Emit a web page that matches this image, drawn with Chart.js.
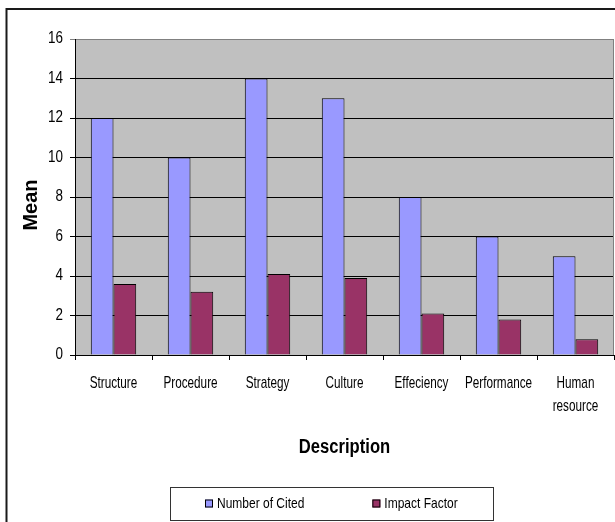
<!DOCTYPE html>
<html>
<head>
<meta charset="utf-8">
<script src="https://cdn.jsdelivr.net/npm/chart.js@4.4.1/dist/chart.umd.min.js"></script>
<style>
  html, body { margin: 0; padding: 0; background: #fff; }
  canvas { display: block; }
</style>
</head>
<body>
<canvas id="c" width="615" height="522"></canvas>
<script>
// Categories and series values
const categories = ['Structure', 'Procedure', 'Strategy', 'Culture', 'Effeciency', 'Performance', ['Human', 'resource']];
const numberOfCited = [12, 10, 14, 13, 8, 6, 5];
const impactFactor = [3.6, 3.2, 4.1, 3.9, 2.1, 1.8, 0.8];
const yTicks = [0, 2, 4, 6, 8, 10, 12, 14, 16];

const FONT = "'Liberation Sans', Arial, sans-serif";

Chart.defaults.color = '#000';

// Condensed lettering: horizontal text is narrowed by a factor chosen per font size
const canvas = document.getElementById('c');
const context = canvas.getContext('2d');
const CONDENSE = { 17: 0.69, 16: 0.84, 15: 0.8, 20: 0.83 };
const baseFillText = context.fillText.bind(context);
context.fillText = function (text, x, y, maxWidth) {
  const m = this.getTransform();
  const match = /(\d+(?:\.\d+)?)px/.exec(this.font);
  const k = match ? (CONDENSE[Math.round(parseFloat(match[1]))] || 1) : 1;
  if (k === 1 || Math.abs(m.b) > 1e-6 || Math.abs(m.c) > 1e-6) {
    return maxWidth === undefined ? baseFillText(text, x, y) : baseFillText(text, x, y, maxWidth);
  }
  this.save();
  this.translate(x, y);
  this.scale(k, 1);
  if (maxWidth === undefined) baseFillText(text, 0, 0);
  else baseFillText(text, 0, 0, maxWidth / k);
  this.restore();
};
function condensedWidth(ctx, text, size) {
  return ctx.measureText(text).width * (CONDENSE[size] || 1);
}

// Page frame, grey plot background and vertical axis title
const frame = {
  id: 'frame',
  beforeDraw(chart) {
    const { ctx, chartArea: a } = chart;
    ctx.save();
    ctx.fillStyle = '#fff';
    ctx.fillRect(0, 0, chart.width, chart.height);
    ctx.strokeStyle = '#1a1a1a';
    ctx.lineWidth = 2;
    ctx.strokeRect(6.5, 9, chart.width + 20, chart.height + 20);
    ctx.fillStyle = '#c0c0c0';
    ctx.fillRect(a.left, a.top, a.right - a.left, a.bottom - a.top);
    ctx.restore();
  },
  afterDatasetsDraw(chart) {
    const { ctx, chartArea: a } = chart;
    ctx.save();
    ctx.strokeStyle = '#808080';
    ctx.lineWidth = 1;
    ctx.beginPath();
    ctx.moveTo(a.right - 0.5, a.top);
    ctx.lineTo(a.right - 0.5, a.bottom);
    ctx.stroke();
    // "Mean" axis title
    ctx.translate(31, (a.top + a.bottom) / 2 + 8);
    ctx.rotate(-Math.PI / 2);
    ctx.font = 'bold 20px ' + FONT;
    ctx.fillStyle = '#000';
    ctx.textAlign = 'center';
    ctx.textBaseline = 'middle';
    ctx.fillText('Mean', 0, 0);
    ctx.restore();
  }
};

// Boxed legend below the axis title
const legendBox = {
  id: 'legendBox',
  afterDraw(chart) {
    const ctx = chart.ctx;
    const x0 = 170, y0 = 487, w = 323, h = 33;
    ctx.save();
    ctx.strokeStyle = '#333';
    ctx.lineWidth = 1;
    ctx.strokeRect(x0 + 0.5, y0 + 0.5, w, h);
    ctx.font = '15px ' + FONT;
    ctx.textBaseline = 'middle';
    ctx.textAlign = 'left';
    const cy = y0 + 16.5;
    let x = x0 + 35;
    chart.data.datasets.forEach(ds => {
      ctx.fillStyle = ds.backgroundColor;
      ctx.fillRect(x, cy - 4, 8, 8);
      ctx.strokeStyle = '#000';
      ctx.strokeRect(x + 0.5, cy - 3.5, 7, 7);
      ctx.fillStyle = '#000';
      ctx.fillText(ds.label, x + 12, cy);
      x += 12 + condensedWidth(ctx, ds.label, 15) + 68;
    });
    ctx.restore();
  }
};

new Chart(canvas, {
  type: 'bar',
  data: {
    labels: categories,
    datasets: [
      {
        label: 'Number of Cited',
        data: numberOfCited,
        backgroundColor: '#9999ff',
        borderColor: '#000',
        borderWidth: 1
      },
      {
        label: 'Impact Factor',
        data: impactFactor,
        backgroundColor: '#993366',
        borderColor: '#000',
        borderWidth: 1
      }
    ]
  },
  options: {
    responsive: false,
    animation: false,
    devicePixelRatio: 1,
    datasets: { bar: { categoryPercentage: 0.59, barPercentage: 1 } },
    layout: { padding: { top: 39, left: 0, right: 1, bottom: 36 } },
    plugins: {
      legend: { display: false },
      tooltip: { enabled: false }
    },
    scales: {
      x: {
        afterFit(scale) {
          scale.height = 131;
          scale.paddingLeft = 0;
          scale.paddingRight = 0;
        },
        grid: {
          offset: true,
          drawOnChartArea: false,
          drawTicks: true,
          tickLength: 5,
          color: '#000'
        },
        border: { color: '#000', width: 1 },
        ticks: {
          font: { family: FONT, size: 17, lineHeight: 1.35 },
          padding: 12,
          maxRotation: 0,
          autoSkip: false
        },
        title: {
          display: true,
          text: 'Description',
          font: { family: FONT, size: 20, weight: 'bold' },
          padding: { top: 0, bottom: 27 }
        }
      },
      y: {
        min: yTicks[0],
        max: yTicks[yTicks.length - 1],
        afterFit(scale) { scale.width = 75; },
        afterBuildTicks(scale) { scale.ticks = yTicks.map(v => ({ value: v })); },
        grid: {
          color: ctx => (ctx.tick && ctx.tick.value === yTicks[yTicks.length - 1]) ? '#808080' : '#000',
          tickLength: 5,
          drawTicks: true
        },
        border: { color: '#000', width: 1 },
        ticks: {
          font: { family: FONT, size: 16 },
          padding: 7
        }
      }
    }
  },
  plugins: [frame, legendBox]
});
</script>
</body>
</html>
